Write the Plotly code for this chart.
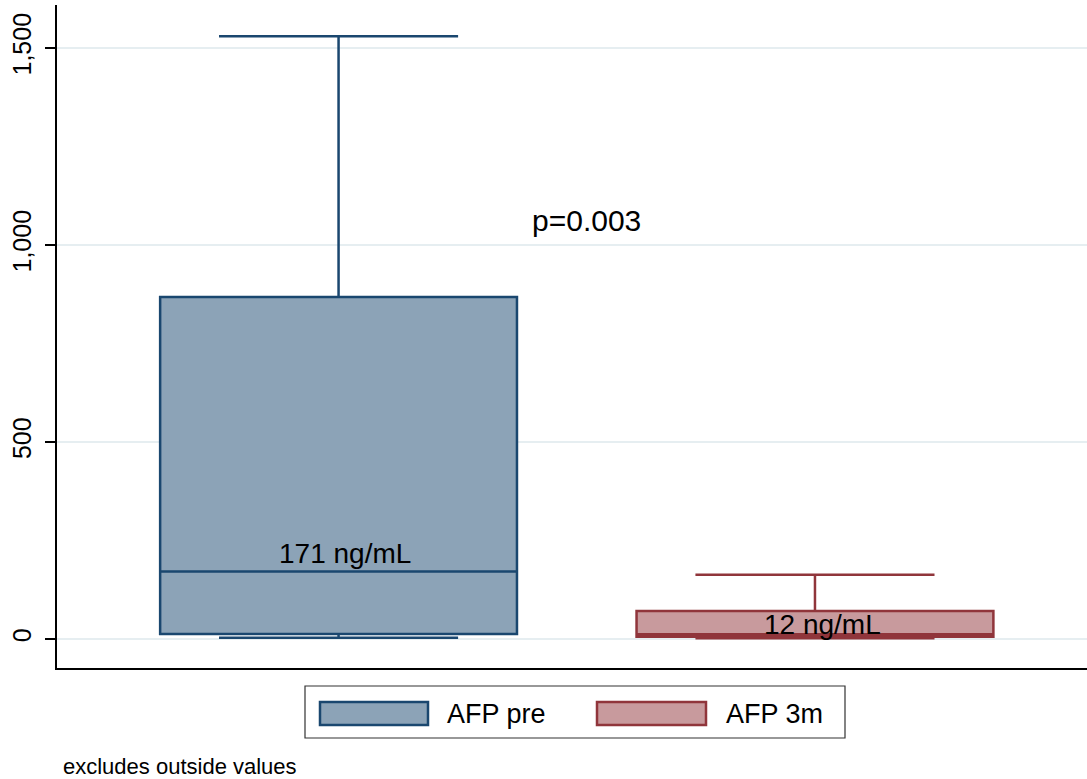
import plotly.graph_objects as go

# ---- data ----
groups = ["AFP pre", "AFP 3m"]
positions = [0, 1]
lower_fence = [3, 2]
q1 = [13, 6]
median = [171, 12]
q3 = [868, 71]
upper_fence = [1530, 163]
median_labels = ["171 ng/mL", "12 ng/mL"]
p_value_text = "p=0.003"
note_text = "excludes outside values"
y_tickvals = [0, 500, 1000, 1500]
y_ticktext = ["0", "500", "1,000", "1,500"]

line_colors = ["#1a476f", "#90353b"]
fill_colors = ["#8ca3b7", "#c89a9d"]
FONT = "Liberation Sans, Arial, sans-serif"

fig = go.Figure()
for i in range(2):
    fig.add_trace(go.Box(
        name=groups[i],
        x=[positions[i]],
        q1=[q1[i]], median=[median[i]], q3=[q3[i]],
        lowerfence=[lower_fence[i]], upperfence=[upper_fence[i]],
        width=0.749, whiskerwidth=0.67,
        fillcolor=fill_colors[i],
        line=dict(color=line_colors[i], width=2.5),
        boxpoints=False, showlegend=False, hoverinfo="skip",
    ))

# median labels and p value
label_x = [0.013, 1.015]
label_y = [218, 38]
for i in range(2):
    fig.add_annotation(x=label_x[i], y=label_y[i], text=median_labels[i],
                       showarrow=False, xref="x", yref="y",
                       font=dict(family=FONT, size=28, color="black"))
fig.add_annotation(x=0.52, y=1063, text=p_value_text, showarrow=False,
                   font=dict(family=FONT, size=30, color="black"))

# manual legend (paper coordinates)
L, T, B, W = 57, 5, 668, 1030
H = B - T
def px(x):
    return (x - L) / W
def py(y):
    return (B - y) / H

fig.add_shape(type="rect", xref="paper", yref="paper",
              x0=px(305), x1=px(845), y0=py(686), y1=py(738),
              line=dict(color="#333333", width=1.2), fillcolor="white")
sym_x = [(320, 428), (597, 706)]
txt_x = [445, 724]
for i in range(2):
    fig.add_shape(type="rect", xref="paper", yref="paper",
                  x0=px(sym_x[i][0]), x1=px(sym_x[i][1]), y0=py(702), y1=py(725),
                  line=dict(color=line_colors[i], width=2.5), fillcolor=fill_colors[i])
    fig.add_annotation(xref="paper", yref="paper", x=px(txt_x[i]), y=py(714),
                       text=groups[i], showarrow=False, xanchor="left", yanchor="middle",
                       font=dict(family=FONT, size=27, color="black"))

fig.add_annotation(xref="paper", yref="paper", x=px(61), y=py(767),
                   text=note_text, showarrow=False, xanchor="left", yanchor="middle",
                   font=dict(family=FONT, size=22, color="black"))

fig.update_layout(
    width=1087, height=779,
    margin=dict(l=L, r=0, t=T, b=779 - B),
    paper_bgcolor="white", plot_bgcolor="white",
    boxmode="overlay",
    showlegend=False,
    xaxis=dict(range=[-0.591, 1.571], showticklabels=False, ticks="",
               showgrid=False, zeroline=False, showline=True,
               linecolor="black", linewidth=2, fixedrange=True),
    yaxis=dict(range=[-73.6, 1609], tickvals=y_tickvals, ticktext=y_ticktext,
               tickangle=-90, ticks="outside", ticklen=10, tickwidth=1.5,
               tickcolor="black", ticklabelstandoff=4,
               tickfont=dict(family=FONT, size=25, color="black"),
               showgrid=True, gridcolor="#e6eef1", gridwidth=2,
               zeroline=False, showline=True, linecolor="black", linewidth=2),
)

fig.write_html("out.html", config={"displayModeBar": False},
               post_script="document.body.style.margin='0';document.body.style.padding='0';")
